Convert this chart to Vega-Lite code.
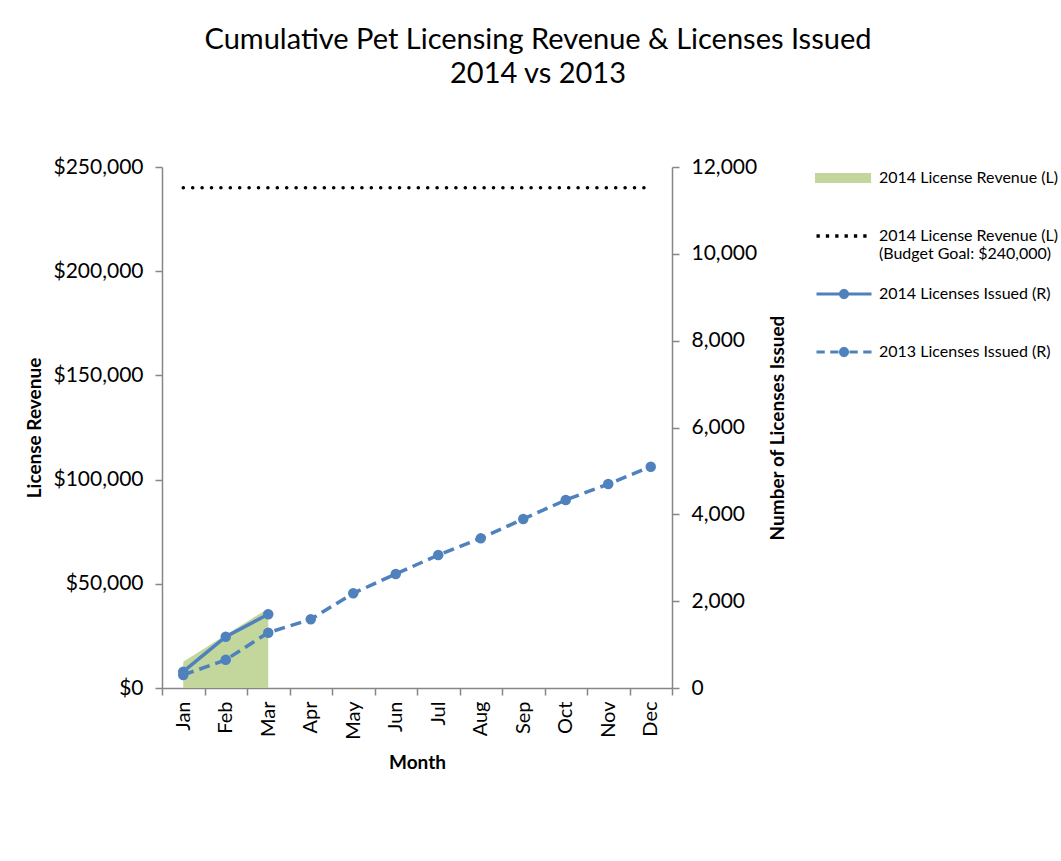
{
  "$schema": "https://vega.github.io/schema/vega-lite/v6.json",
  "autosize": "none",
  "width": 510,
  "height": 521,
  "padding": {"left": 162, "top": 167, "right": 389, "bottom": 173},
  "background": "white",
  "config": {
    "font": "Lato",
    "view": {"stroke": null},
    "axis": {
      "domainColor": "#868686",
      "tickColor": "#868686",
      "domainWidth": 1.5,
      "tickWidth": 1.5,
      "tickSize": 7,
      "labelFont": "Lato",
      "labelFontSize": 21,
      "labelColor": "black",
      "titleFont": "Lato",
      "titleFontSize": 19,
      "titleFontWeight": "bold",
      "titleColor": "black",
      "grid": false
    }
  },
  "title": {
    "text": ["Cumulative Pet Licensing Revenue & Licenses Issued", "2014 vs 2013"],
    "fontSize": 29,
    "fontWeight": "normal",
    "font": "Lato",
    "color": "black",
    "anchor": "middle",
    "frame": "group",
    "dx": 121,
    "offset": 60,
    "lineHeight": 34
  },
  "data": {
    "values": [
      {"month": "Jan", "rev": 12600, "budget": 240000, "lic14": 375, "lic13": 300},
      {"month": "Feb", "rev": 25400, "budget": 240000, "lic14": 1181, "lic13": 650},
      {"month": "Mar", "rev": 38200, "budget": 240000, "lic14": 1700, "lic13": 1274},
      {"month": "Apr", "rev": null, "budget": 240000, "lic14": null, "lic13": 1582},
      {"month": "May", "rev": null, "budget": 240000, "lic14": null, "lic13": 2181},
      {"month": "Jun", "rev": null, "budget": 240000, "lic14": null, "lic13": 2625},
      {"month": "Jul", "rev": null, "budget": 240000, "lic14": null, "lic13": 3063},
      {"month": "Aug", "rev": null, "budget": 240000, "lic14": null, "lic13": 3447},
      {"month": "Sep", "rev": null, "budget": 240000, "lic14": null, "lic13": 3892},
      {"month": "Oct", "rev": null, "budget": 240000, "lic14": null, "lic13": 4330},
      {"month": "Nov", "rev": null, "budget": 240000, "lic14": null, "lic13": 4698},
      {"month": "Dec", "rev": null, "budget": 240000, "lic14": null, "lic13": 5097}
    ]
  },
  "encoding": {
    "x": {
      "field": "month",
      "type": "ordinal",
      "sort": null,
      "bandPosition": 0.5,
      "scale": {
        "type": "band",
        "domain": ["Jan", "Feb", "Mar", "Apr", "May", "Jun", "Jul", "Aug", "Sep", "Oct", "Nov", "Dec"],
        "paddingInner": 0,
        "paddingOuter": 0
      },
      "axis": {"title": "Month", "labelAngle": 270, "labelFontSize": 20, "tickBand": "extent", "labelPadding": 6, "titlePadding": 14}
    }
  },
  "layer": [
    {
      "layer": [
        {
          "mark": {"type": "area", "color": "#C3D69B", "opacity": 1},
          "encoding": {
            "y": {
              "field": "rev",
              "type": "quantitative",
              "scale": {"domain": [0, 250000], "nice": false},
              "axis": {"title": "License Revenue", "values": [0, 50000, 100000, 150000, 200000, 250000], "format": "$,.0f", "labelPadding": 12, "titlePadding": 8}
            }
          }
        },
        {
          "mark": {"type": "line", "color": "black", "strokeWidth": 3.5, "strokeDash": [0.1, 9.3], "strokeCap": "round"},
          "encoding": {
            "y": {
              "field": "budget",
              "type": "quantitative",
              "scale": {"domain": [0, 250000], "nice": false},
              "axis": {"title": "License Revenue", "values": [0, 50000, 100000, 150000, 200000, 250000], "format": "$,.0f", "labelPadding": 12, "titlePadding": 8}
            }
          }
        }
      ]
    },
    {
      "layer": [
        {
          "mark": {"type": "line", "color": "#4F81BD", "strokeWidth": 3.5, "point": {"filled": true, "size": 110, "color": "#4F81BD", "opacity": 1}},
          "encoding": {
            "y": {
              "field": "lic14",
              "type": "quantitative",
              "scale": {"domain": [0, 12000], "nice": false},
              "axis": {"orient": "right", "title": "Number of Licenses Issued", "titleAngle": 270, "values": [0, 2000, 4000, 6000, 8000, 10000, 12000], "format": ",.0f", "labelPadding": 12, "titlePadding": 31}
            }
          }
        },
        {
          "mark": {"type": "line", "color": "#4F81BD", "strokeWidth": 3.5, "strokeDash": [11, 6], "point": {"filled": true, "size": 110, "color": "#4F81BD", "opacity": 1}},
          "encoding": {
            "y": {
              "field": "lic13",
              "type": "quantitative",
              "scale": {"domain": [0, 12000], "nice": false},
              "axis": {"orient": "right", "title": "Number of Licenses Issued", "titleAngle": 270, "values": [0, 2000, 4000, 6000, 8000, 10000, 12000], "format": ",.0f", "labelPadding": 12, "titlePadding": 31}
            }
          }
        }
      ]
    },
    {
      "transform": [{"filter": "false"}],
      "mark": {"type": "point", "size": 3025, "opacity": 1, "strokeWidth": 3},
      "encoding": {
        "fill": {
          "field": "series",
          "type": "nominal",
          "scale": {"domain": ["rev", "budget", "lic14", "lic13"], "range": ["#C3D69B", "#000000", "#4F81BD", "#4F81BD"]},
          "legend": {
            "title": null,
            "orient": "none",
            "legendX": 653,
            "legendY": -18,
            "gridAlign": "all",
            "labelFont": "Lato",
            "labelFontSize": 16,
            "labelColor": "black",
            "labelOffset": 6,
            "labelLimit": 400,
            "rowPadding": 3,
            "symbolSize": 3025,
            "symbolStrokeWidth": 3,
            "labelExpr": "datum.value === 'rev' ? '2014 License Revenue (L)' : datum.value === 'budget' ? ['2014 License Revenue (L)', '(Budget Goal: $240,000)'] : datum.value === 'lic14' ? '2014 Licenses Issued (R)' : '2013 Licenses Issued (R)'",
            "encode": {
              "labels": {"update": {"dy": {"signal": "datum.value === 'budget' ? 10 : 0"}}}
            }
          }
        },
        "stroke": {
          "field": "series",
          "type": "nominal",
          "scale": {"domain": ["rev", "budget", "lic14", "lic13"], "range": ["#C3D69B", "transparent", "#4F81BD", "#4F81BD"]},
          "legend": {
            "title": null,
            "orient": "none",
            "legendX": 653,
            "legendY": -18,
            "gridAlign": "all",
            "labelFont": "Lato",
            "labelFontSize": 16,
            "labelColor": "black",
            "labelOffset": 6,
            "labelLimit": 400,
            "rowPadding": 3,
            "symbolSize": 3025,
            "symbolStrokeWidth": 3,
            "labelExpr": "datum.value === 'rev' ? '2014 License Revenue (L)' : datum.value === 'budget' ? ['2014 License Revenue (L)', '(Budget Goal: $240,000)'] : datum.value === 'lic14' ? '2014 Licenses Issued (R)' : '2013 Licenses Issued (R)'",
            "encode": {
              "labels": {"update": {"dy": {"signal": "datum.value === 'budget' ? 10 : 0"}}}
            }
          }
        },
        "shape": {
          "field": "series",
          "type": "nominal",
          "scale": {
            "domain": ["rev", "budget", "lic14", "lic13"],
            "range": [
              "M-1,-0.13H0.93V0.13H-1Z",
              "M-1,-0.06h0.12v0.12h-0.12zM-0.66,-0.06h0.12v0.12h-0.12zM-0.32,-0.06h0.12v0.12h-0.12zM0.02,-0.06h0.12v0.12h-0.12zM0.36,-0.06h0.12v0.12h-0.12zM0.7,-0.06h0.12v0.12h-0.12z",
              "M-1,0H1M0.13,0L0.113,0.065L0.065,0.113L0,0.13L-0.065,0.113L-0.113,0.065L-0.13,0L-0.113,-0.065L-0.065,-0.113L0,-0.13L0.065,-0.113L0.113,-0.065Z",
              "M-1,0H-0.7M-0.5,0H-0.2M0.2,0H0.5M0.7,0H1M0.13,0L0.113,0.065L0.065,0.113L0,0.13L-0.065,0.113L-0.113,0.065L-0.13,0L-0.113,-0.065L-0.065,-0.113L0,-0.13L0.065,-0.113L0.113,-0.065Z"
            ]
          },
          "legend": {
            "title": null,
            "orient": "none",
            "legendX": 653,
            "legendY": -18,
            "gridAlign": "all",
            "labelFont": "Lato",
            "labelFontSize": 16,
            "labelColor": "black",
            "labelOffset": 6,
            "labelLimit": 400,
            "rowPadding": 3,
            "symbolSize": 3025,
            "symbolStrokeWidth": 3,
            "labelExpr": "datum.value === 'rev' ? '2014 License Revenue (L)' : datum.value === 'budget' ? ['2014 License Revenue (L)', '(Budget Goal: $240,000)'] : datum.value === 'lic14' ? '2014 Licenses Issued (R)' : '2013 Licenses Issued (R)'",
            "encode": {
              "labels": {"update": {"dy": {"signal": "datum.value === 'budget' ? 10 : 0"}}}
            }
          }
        }
      }
    }
  ],
  "resolve": {"scale": {"y": "independent"}}
}
